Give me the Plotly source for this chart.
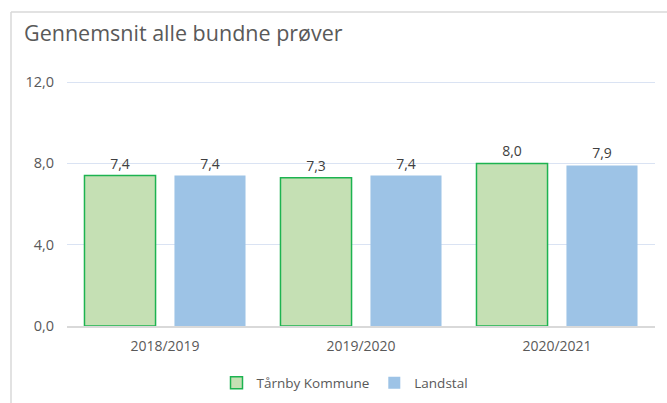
import plotly.graph_objects as go

categories = ["2018/2019", "2019/2020", "2020/2021"]
tarnby = [7.4, 7.3, 8.0]
landstal = [7.4, 7.4, 7.9]
y_ticks = [0, 4, 8, 12]
y_ticklabels = ["0,0", "4,0", "8,0", "12,0"]

def fmt(v):
    return f"{v:.1f}".replace(".", ",")

W, H = 667, 403
Y_TOP = 12.3
L, R, B = 67, 12, 77
base_y = H - B  # pixel of value 0
px_per_unit = (326 - 82) / 12
T = int(round(base_y - Y_TOP * px_per_unit))
pw, ph = W - L - R, H - T - B

fig = go.Figure()
fig.add_trace(go.Bar(
    name="Tårnby Kommune", x=categories, y=tarnby,
    marker=dict(color="#c5e0b4", line=dict(color="#1db350", width=1.5)),
    text=[fmt(v) for v in tarnby], textposition="outside", cliponaxis=False,
    textfont=dict(size=14, color="#404040"),
))
fig.add_trace(go.Bar(
    name="Landstal", x=categories, y=landstal,
    marker=dict(color="#9dc3e6", line=dict(width=0)),
    text=[fmt(v) for v in landstal], textposition="outside", cliponaxis=False,
    textfont=dict(size=14, color="#404040"),
))

def px_x(x):
    return (x - L) / pw

def px_y(y):
    return (H - B - y) / ph

fig.update_layout(
    width=W, height=H,
    margin=dict(l=L, r=R, t=T, b=B, autoexpand=False),
    paper_bgcolor="white", plot_bgcolor="white",
    font=dict(family="Open Sans, Noto Sans, sans-serif", color="#595959"),
    barmode="group", bargap=0.082, bargroupgap=0.21,
    title=dict(text="Gennemsnit alle bundne prøver", x=24 / W,
               xanchor="left", xref="container", y=1 - 33 / H, yanchor="middle",
               yref="container",
               font=dict(size=21.5, color="#595959")),
    showlegend=True,
    legend=dict(orientation="h", x=px_x(345), xanchor="center",
                y=px_y(383), yanchor="middle",
                font=dict(size=13.5, color="#595959"), itemwidth=30,
                traceorder="normal"),
    shapes=[
        dict(type="line", xref="paper", yref="paper",
             x0=px_x(11), x1=px_x(680), y0=px_y(12), y1=px_y(12),
             line=dict(color="#d9d9d9", width=1.5)),
        dict(type="line", xref="paper", yref="paper",
             x0=px_x(11), x1=px_x(11), y0=px_y(12), y1=px_y(410),
             line=dict(color="#d9d9d9", width=1.5)),
    ],
)

fig.update_yaxes(range=[0, Y_TOP], tickvals=y_ticks, ticktext=y_ticklabels,
                 showgrid=True, gridcolor="#dae3f3", gridwidth=1.3,
                 zeroline=False, showline=False,
                 tickfont=dict(size=14.5, color="#595959"), ticklen=0,
                 ticks="", ticklabelstandoff=12)
fig.update_xaxes(showline=True, linecolor="#d9d9d9", linewidth=1.5,
                 tickfont=dict(size=14, color="#595959"), ticks="",
                 ticklabelstandoff=6)

fig.write_html("out.html", config={"displayModeBar": False},
               post_script="document.body.style.margin='0';document.body.style.overflow='hidden';")
